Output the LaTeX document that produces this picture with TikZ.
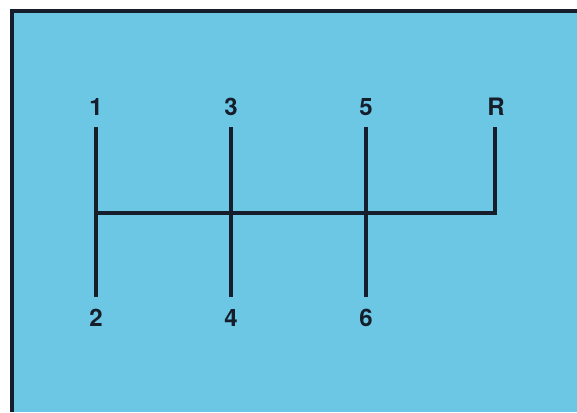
\documentclass[tikz,border=0pt]{standalone}
\usepackage{fontspec}
\setmainfont{TeX Gyre Heros}
\definecolor{panelblue}{RGB}{108,199,228}
\definecolor{ink}{RGB}{22,30,44}
\tikzset{
  gear/.style={font=\bfseries\fontsize{24}{24}\selectfont, text=ink, inner sep=0pt},
  rod/.style={draw=ink, line width=3.8pt, line cap=butt, line join=miter}
}
\begin{document}
\begin{tikzpicture}[x=1pt,y=1pt]
  \useasboundingbox (0,0) rectangle (577,412);
  \fill[white] (0,0) rectangle (577,412);
  \fill[panelblue] (12,0) rectangle (577,401);
  \draw[ink, line width=4pt] (12,0) -- (12,401) -- (577,401);
  % labels (y = 412 - pixel y)
  \node[gear] (g1) at (96,305) {1};
  \node[gear] (g3) at (231,305) {3};
  \node[gear] (g5) at (366,305) {5};
  \node[gear] (gR) at (496,305) {R};
  \node[gear] (g2) at (96,94) {2};
  \node[gear] (g4) at (231,94) {4};
  \node[gear] (g6) at (366,94) {6};
  % line ends
  \coordinate (t1) at (96,285);
  \coordinate (t3) at (231,285);
  \coordinate (t5) at (366,285);
  \coordinate (tR) at (495,285);
  \coordinate (b1) at (96,115);
  \coordinate (b3) at (231,115);
  \coordinate (b5) at (366,115);
  \coordinate (m1) at (96,199);
  \coordinate (mR) at (495,199);
  \draw[rod] (t1) -- (b1);
  \draw[rod] (t3) -- (b3);
  \draw[rod] (t5) -- (b5);
  \draw[rod] (m1) -- (mR) -- (tR);
\end{tikzpicture}
\end{document}
